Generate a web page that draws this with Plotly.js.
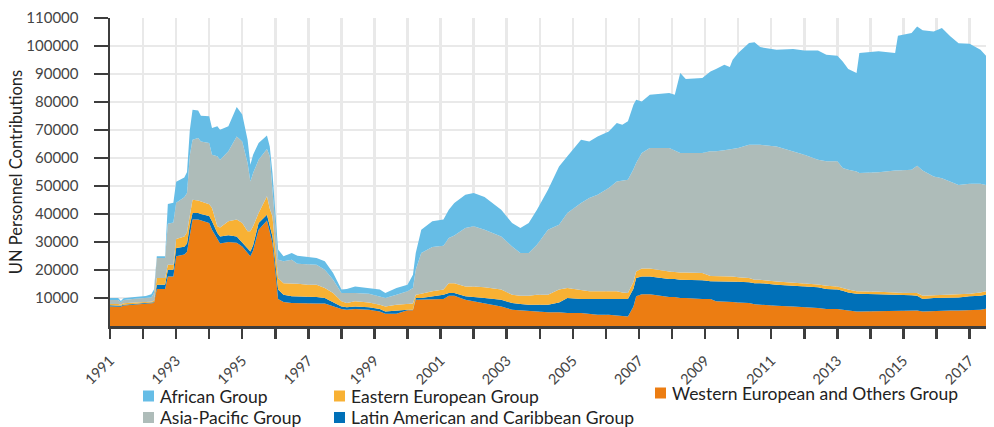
<!DOCTYPE html>
<html><head><meta charset="utf-8">
<script src="https://cdn.plot.ly/plotly-3.0.1.min.js"></script>
<style>html,body{margin:0;padding:0;background:#fff}#chart{width:994px;height:427px}</style>
</head><body><div id="chart"></div>
<script>
const dates = [
'1991-01','1991-04','1991-05','1991-06','1991-10','1992-02','1992-04','1992-05','1992-06','1992-09',
'1992-10','1992-12','1993-01','1993-04','1993-05','1993-06','1993-07','1993-09','1993-10','1994-01',
'1994-02','1994-04','1994-05','1994-08','1994-11','1995-01','1995-03','1995-04','1995-05','1995-07',
'1995-10','1995-11','1995-12','1996-02','1996-04','1996-07','1996-09','1997-01','1997-04','1997-07',
'1997-10','1998-01','1998-03','1998-06','1998-11','1999-03','1999-05','1999-09','2000-01','2000-03',
'2000-04','2000-06','2000-10','2001-02','2001-04','2001-06','2001-10','2002-01','2002-05','2002-11',
'2003-03','2003-06','2003-09','2003-12','2004-04','2004-08','2004-11','2005-04','2005-07','2005-10',
'2006-02','2006-05','2006-07','2006-09','2006-11','2006-12','2007-02','2007-05','2007-12','2008-02',
'2008-04','2008-06','2008-12','2009-03','2009-05','2009-08','2009-10','2009-11','2010-01','2010-05',
'2010-07','2010-09','2011-03','2011-09','2012-01','2012-06','2012-09','2013-01','2013-03','2013-05',
'2013-08','2013-09','2014-04','2014-10','2014-11','2015-04','2015-06','2015-08','2015-12','2016-03',
'2016-06','2016-09','2017-01','2017-05','2017-07'];

const western = [
7000,7000,6900,7300,7600,7800,8000,8200,13200,13200,
17700,17700,24900,25500,26500,33000,38000,38000,37700,36800,
34400,30800,29500,30000,29700,28400,26100,24900,27000,34400,
37700,33200,29600,9600,8600,8200,8100,8000,8000,8000,
7000,6100,5800,6100,5800,5200,4400,4400,5600,5600,
9400,9400,9600,9600,10800,10800,9400,8800,8200,7000,
5800,5600,5200,5200,4900,4900,4600,4600,4300,4000,
4000,3700,3700,3400,7000,10600,11300,11300,10400,10400,
10000,10000,9600,9600,8800,8800,8800,8600,8400,8200,
7800,7600,7200,7000,6800,6400,6100,6100,5800,5500,
5200,5200,5300,5500,5500,5500,5500,5200,5400,5500,
5500,5500,5600,5800,6200];

const latinAmerican = [
400,400,300,300,300,300,300,300,1500,1500,
2400,2400,3000,2800,3000,3000,2400,2400,2300,2500,
3000,2400,2500,2400,2300,1500,1400,1700,1800,2400,
2000,2300,2400,3400,2600,2400,2500,2400,2400,2000,
1400,900,900,900,900,900,800,1200,200,200,
600,600,1000,1600,1000,1000,1200,1600,1800,2400,
2400,2300,2400,2400,2700,3500,5400,5000,5300,5600,
5600,5900,5900,6200,6300,6500,6400,6400,6400,6400,
6500,6500,6700,6400,7200,7200,7200,7400,7400,7400,
7500,7700,7500,7400,7300,7400,7100,6900,6800,6500,
6300,6300,6000,5700,5700,5500,5300,4400,4600,4500,
4500,4700,5000,5000,5000];

const easternEuropean = [
500,500,400,500,500,400,400,500,2400,2400,
1800,1800,3200,3700,4000,3500,4700,4400,4500,4200,
4700,2400,3200,5000,6000,6900,6300,7200,6800,3600,
6600,6500,7100,4100,4100,4700,4500,4300,4300,3600,
3400,1800,1500,1800,1700,1500,1800,2000,2200,2200,
1200,1500,1800,1800,3500,3500,3500,3700,3800,3600,
3000,2900,3200,3600,3600,4600,3600,3100,2800,2800,
2800,2800,2400,2200,2400,2400,2800,2800,2700,2400,
2600,2600,2600,1900,1900,1700,1700,1700,1600,1500,
1200,1200,1200,1100,1200,1000,1200,1100,1000,1000,
900,900,900,800,700,800,1000,1200,1000,1100,
1200,1000,900,1200,1200];

const asiaPacific = [
1400,1400,900,1200,1300,1400,1500,2800,7200,7200,
14600,15100,12900,14000,14000,21500,21400,22300,21400,21900,
19100,25000,24200,25000,29700,29100,24400,17800,19000,19000,
16900,18600,8400,6600,7800,8400,7100,7300,7200,6500,
4700,3000,3600,3000,3100,3000,3000,3600,4400,5600,
8900,14600,15800,15700,16100,17000,20900,21500,20600,19000,
17200,15300,15300,17800,23200,23200,26800,31200,33300,34500,
36900,39200,39900,40400,40300,38700,41300,43100,44100,43600,
42700,42700,42900,44500,44500,45100,45500,45700,46200,47600,
48200,48200,48200,46900,45900,44600,44400,44700,42800,42800,
42800,42200,42700,43500,43600,44000,45400,44700,42400,41700,
40400,39200,39300,38800,38000];

const african = [
700,700,400,600,700,800,1100,1200,600,600,
7100,7000,7500,7000,7500,9000,10700,9900,9200,9500,
9500,10700,10700,8900,10500,9600,8300,6000,6600,6000,
4800,3500,7100,3600,1800,2400,2900,2700,2400,3000,
2400,1200,1400,2300,2100,2400,1800,2400,2300,4700,
6000,8300,9200,9300,10100,11600,11900,11900,11700,9500,
8400,8900,10700,12500,14300,20800,20200,22600,20200,20800,
20200,20900,20000,20900,23000,22600,18400,19000,19600,19800,
28600,26400,26800,28500,29400,30500,29300,31700,33900,36400,
36600,34900,34600,36500,37200,39000,38100,37700,38100,36000,
35200,42900,43200,42000,48200,48800,49800,50100,51800,53600,
51900,50600,50000,47900,46100];

const groupNames = ['Western European and Others Group','Latin American and Caribbean Group',
  'Eastern European Group','Asia-Pacific Group','African Group'];
const yTickVals = [10000,20000,30000,40000,50000,60000,70000,80000,90000,100000,110000];
const xRange = ['1991-01-01','2017-07-01'];

const colors = {
  'Western European and Others Group':'#ec7d12',
  'Latin American and Caribbean Group':'#0070b8',
  'Eastern European Group':'#f8b134',
  'Asia-Pacific Group':'#aebcb9',
  'African Group':'#66bde6'
};
const seriesByName = {
  'Western European and Others Group':western,
  'Latin American and Caribbean Group':latinAmerican,
  'Eastern European Group':easternEuropean,
  'Asia-Pacific Group':asiaPacific,
  'African Group':african
};

const FONT = 'Lato, "Open Sans", sans-serif';
const W = 994, H = 427;
const M = {l:110, r:8, t:18, b:101};
const plotW = W - M.l - M.r, plotH = H - M.t - M.b;
const px2x = px => (px - M.l) / plotW;
const py2y = py => (H - M.b - py) / plotH;

const traces = groupNames.map(n => ({
  type:'scatter', mode:'lines', x:dates, y:seriesByName[n], name:n,
  stackgroup:'one', line:{width:0, color:colors[n]}, fillcolor:colors[n],
  showlegend:false, hoverinfo:'skip'
}));

// Legend drawn as swatches + text in three columns
const legendItems = [
  {name:'African Group', sx:143, tx:158, cy:396},
  {name:'Asia-Pacific Group', sx:143, tx:158, cy:417.5},
  {name:'Eastern European Group', sx:334, tx:349, cy:396},
  {name:'Latin American and Caribbean Group', sx:334, tx:349, cy:417.5},
  {name:'Western European and Others Group', sx:655, tx:670, cy:393}
];
const SW = 11;
const shapes = legendItems.map(it => ({
  type:'rect', xref:'paper', yref:'paper', layer:'above',
  x0:px2x(it.sx), x1:px2x(it.sx + SW), y0:py2y(it.cy - SW/2), y1:py2y(it.cy + SW/2),
  fillcolor:colors[it.name], line:{width:0}
}));
const annotations = legendItems.map(it => ({
  xref:'paper', yref:'paper', x:px2x(it.tx), y:py2y(it.cy), xanchor:'left', yanchor:'middle',
  text:it.name, showarrow:false, font:{family:FONT, size:17.5, color:'#222'}
}));

const axisCol = '#3d3d3d', gridCol = '#e9e9e9';
const layout = {
  width:W, height:H, margin:M,
  paper_bgcolor:'#fff', plot_bgcolor:'#fff',
  font:{family:FONT, size:16, color:'#444'},
  hovermode:false, showlegend:false,
  xaxis:{
    type:'date', range:xRange, tick0:'1991-01-01', dtick:'M24', tickformat:'%Y',
    tickangle:-45, ticks:'outside', ticklen:10, tickwidth:2.5, tickcolor:axisCol,
    ticklabelstandoff:8,
    tickfont:{family:FONT, size:14.5, color:'#444'},
    showline:true, linecolor:axisCol, linewidth:2.5,
    showgrid:true, gridcolor:gridCol, gridwidth:2.5, zeroline:false,
    minor:{dtick:'M12', tick0:'1991-01-01', ticks:'outside', ticklen:10, tickwidth:2.5,
      tickcolor:axisCol, showgrid:true, gridcolor:gridCol, gridwidth:2.5}
  },
  yaxis:{
    range:[0,110000], tickvals:yTickVals, tickformat:'d',
    ticks:'outside', ticklen:14, tickwidth:2.5, tickcolor:axisCol,
    ticklabelstandoff:12,
    tickfont:{family:FONT, size:15, color:'#444'},
    showline:true, linecolor:axisCol, linewidth:2.5,
    showgrid:true, gridcolor:gridCol, gridwidth:2.5, zeroline:false,
    title:{text:'UN Personnel Contributions', font:{family:FONT, size:16.5, color:'#222'}, standoff:0}
  },
  shapes:shapes,
  annotations:annotations
};

Plotly.newPlot('chart', traces, layout, {displayModeBar:false, staticPlot:true});
</script></body></html>
